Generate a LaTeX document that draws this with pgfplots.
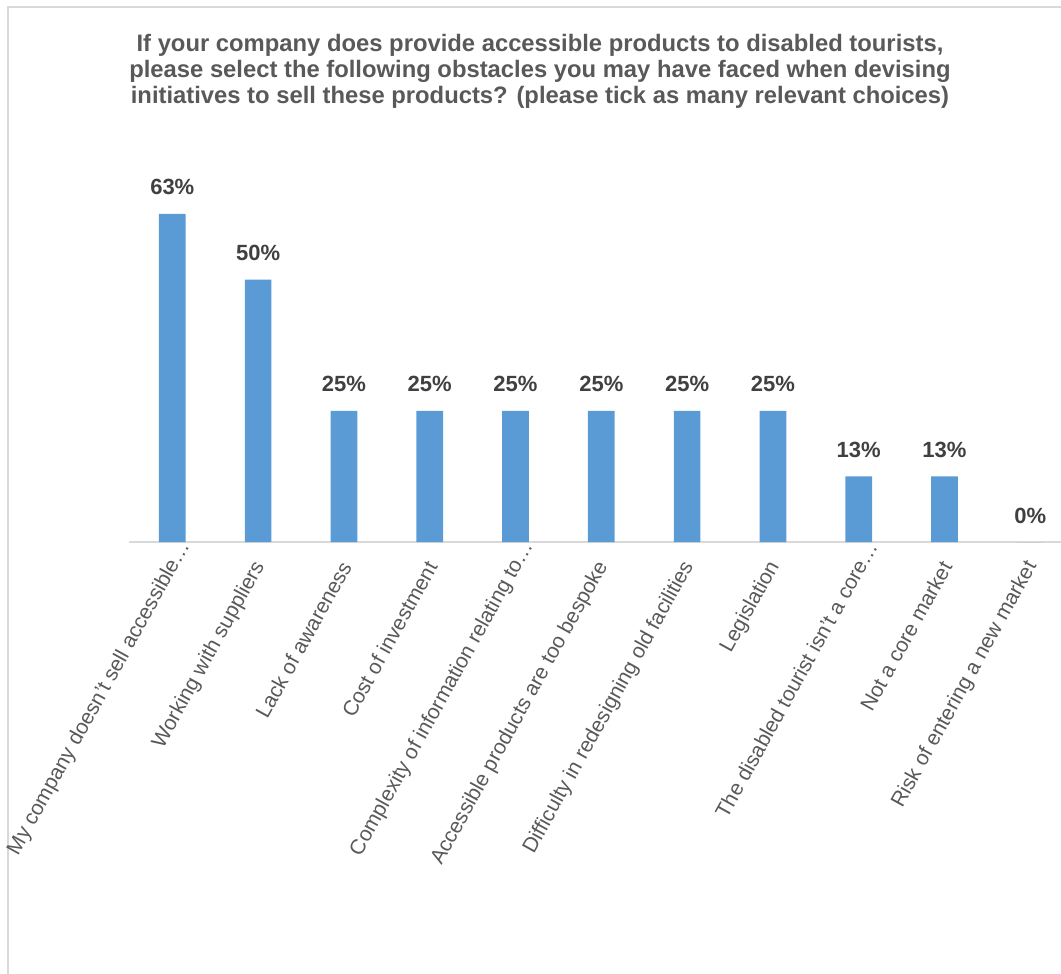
\documentclass[border=0pt]{standalone}
\usepackage{fontspec}
\setmainfont{Liberation Sans}
\usepackage{pgfplots}
\pgfplotsset{compat=1.18}
\definecolor{barblue}{HTML}{5B9BD5}
\definecolor{titlegray}{HTML}{595959}
\definecolor{labelgray}{HTML}{404040}
\definecolor{tickgray}{HTML}{595959}
\definecolor{linegray}{HTML}{D9D9D9}
\newcommand{\trunc}[1]{#1\hspace*{-23bp}}
\begin{document}
\begin{tikzpicture}
\path[use as bounding box] (0,0) rectangle (1061bp,-974bp);
\draw[linegray, line width=2bp] (8bp,-980bp) -- (8bp,-7bp) -- (1070bp,-7bp);
\begin{scope}[every node/.style={anchor=base, text=titlegray, font=\fontsize{23.8bp}{28bp}\selectfont\bfseries}]
\node at (540bp,-51.7bp) {If your company does provide accessible products to disabled tourists,};
\node at (540bp,-77.4bp) {please select the following obstacles you may have faced when devising};
\node at (540bp,-103.1bp) {initiatives to sell these products? (please tick as many relevant choices)};
\end{scope}
\begin{axis}[
  at={(129.4bp,-542bp)}, anchor=south west,
  scale only axis, x=85.8bp, y=5.25bp,
  xmin=-0.5, xmax=10.36, ymin=0, ymax=70,
  axis x line*=bottom, axis y line=none,
  x axis line style={draw=linegray, line width=1.5bp, -},
  ytick=\empty, xtick={0,...,10}, major tick length=0pt,
  xticklabels={\trunc{My company doesn't sell accessible…}, Working with suppliers, Lack of awareness, Cost of investment, \trunc{Complexity of information relating to…}, Accessible products are too bespoke, Difficulty in redesigning old facilities, Legislation, \trunc{The disabled tourist isn't a core…}, Not a core market, Risk of entering a new market},
  xticklabel style={xshift=2bp, yshift=-21bp, rotate=61, anchor=east, inner sep=0pt, text=tickgray, font=\fontsize{21bp}{25bp}\selectfont},
  ybar, bar width=26.7bp,
  nodes near coords, point meta=explicit symbolic,
  every node near coord/.append style={anchor=south, inner sep=0pt, yshift=18.5bp, text=labelgray, font=\fontsize{22bp}{26bp}\selectfont\bfseries},
  clip=false,
]
\addplot[fill=barblue, draw=none] coordinates {
  (0,62.5) [63\%]
  (1,50) [50\%]
  (2,25) [25\%]
  (3,25) [25\%]
  (4,25) [25\%]
  (5,25) [25\%]
  (6,25) [25\%]
  (7,25) [25\%]
  (8,12.5) [13\%]
  (9,12.5) [13\%]
  (10,0) [0\%]
};
\end{axis}
\end{tikzpicture}
\end{document}
